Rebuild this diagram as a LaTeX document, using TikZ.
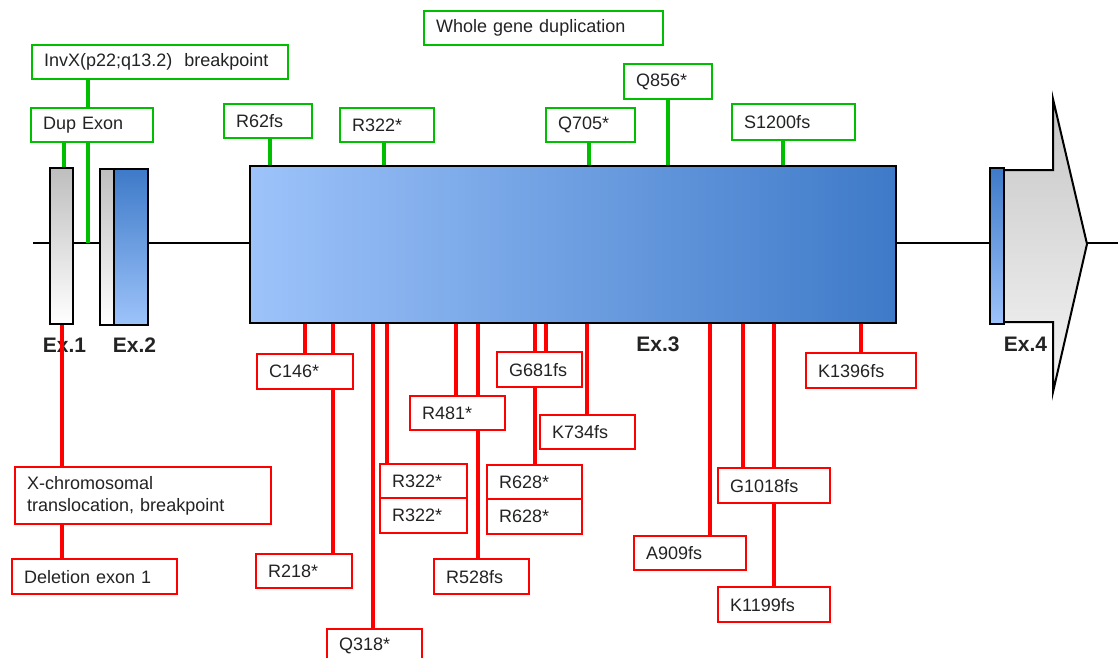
\documentclass[tikz,border=0pt]{standalone}
\usepackage{fontspec}
\setmainfont{Liberation Sans}
\usepackage{xcolor}
\definecolor{dupgreen}{RGB}{0,190,0}
\definecolor{mutred}{RGB}{255,0,0}
\definecolor{exlight}{RGB}{157,195,250}
\definecolor{exdark}{RGB}{62,122,200}
\definecolor{exgray}{RGB}{190,190,190}
\definecolor{tailgray}{RGB}{198,198,198}
\definecolor{labtext}{RGB}{35,35,35}

\begin{document}
\begin{tikzpicture}[x=1pt, y=-1pt,
    exon/.style={draw, line width=2pt, inner sep=0pt, minimum height=156pt},
    mutbox/.style={draw, fill=white, line width=2.4pt, anchor=north west, inner xsep=12pt, inner ysep=0pt,
        minimum height=34pt, align=left, text=labtext, font=\fontsize{18}{22}\selectfont},
    gbox/.style={mutbox, draw=dupgreen, text width=#1},
    rbox/.style={mutbox, draw=mutred, text width=#1},
    gline/.style={dupgreen, line width=3.4pt},
    rline/.style={mutred, line width=3.4pt},
    exlabel/.style={font=\fontsize{21}{24}\selectfont\bfseries, text=labtext, inner sep=0pt}]
                \clip (0,0) rectangle (1118,657);

                \coordinate (start) at (33,243);
                \coordinate (end) at (1118,243);
                \draw[line width=2.8pt] (start) -- (end);

                \draw[line width=2pt, top color=tailgray, bottom color=white!96!black]
                    (1004,170) -- (1053,170) -- (1053,99) -- (1087,244) -- (1053,392) -- (1053,322) -- (1004,322);

                \node[exon, minimum width=23pt, top color=exgray, bottom color=white] (ex1) at (61.5,246) {};
                \node[exon, minimum width=14pt, top color=exgray, bottom color=white] (ex2a) at (107,247) {};
                \node[exon, minimum width=34pt, top color=exdark, bottom color=exlight] (ex2) at (131,247) {};
                \node[exon, minimum width=646pt, minimum height=157pt, left color=exlight, right color=exdark] (ex3) at (573,244.5) {};
                \node[exon, minimum width=14pt, top color=exdark, bottom color=exlight] (ex4) at (997,246) {};

                \node[exlabel] (lab1) at (64.5,345) {Ex.1};
                \node[exlabel] (lab2) at (134.5,345) {Ex.2};
                \node[exlabel] (lab3) at (658,344) {Ex.3};
                \node[exlabel] (lab4) at (1025.5,344.5) {Ex.4};

                \node[gbox=232pt] (invx) at (31,44) {InvX(p22;q13.2)\ \ breakpoint};
                \node[gbox=98pt] (dup) at (30,107) {Dup Exon};
                \node[gbox=64pt] (r62) at (223,103) {R62fs};
                \node[gbox=70pt] (r322g) at (339,107) {R322*};
                \node[gbox=215pt] (whole) at (423,10) {Whole gene duplication};
                \node[gbox=65pt] (q705) at (545,107) {Q705*};
                \node[gbox=64pt, minimum height=35pt] (q856) at (623,63) {Q856*};
                \node[gbox=99pt, minimum height=36pt] (s1200) at (731,103) {S1200fs};

                \node[rbox=232pt, minimum height=57pt] (xchr) at (14,466) {X-chromosomal\\translocation, breakpoint};
                \node[rbox=141pt, minimum height=35pt] (del) at (11,558) {Deletion exon 1};
                \node[rbox=72pt, minimum height=35pt] (c146) at (256,353) {C146*};
                \node[rbox=72pt] (r218) at (255,553) {R218*};
                \node[rbox=71pt] (q318) at (326,628) {Q318*};
                \node[rbox=63pt] (r322a) at (379,463) {R322*};
                \node[rbox=63pt, minimum height=35pt] (r322b) at (379,497) {R322*};
                \node[rbox=71pt] (r481) at (409,395) {R481*};
                \node[rbox=71pt, minimum height=35pt] (r528) at (433,558) {R528fs};
                \node[rbox=61pt, minimum height=35pt] (g681) at (496,351) {G681fs};
                \node[rbox=71pt] (r628a) at (486,464) {R628*};
                \node[rbox=71pt, minimum height=35pt] (r628b) at (486,498) {R628*};
                \node[rbox=71pt] (k734) at (539,414) {K734fs};
                \node[rbox=88pt] (a909) at (633,535) {A909fs};
                \node[rbox=88pt, minimum height=35pt] (g1018) at (717,467) {G1018fs};
                \node[rbox=88pt, minimum height=35pt] (k1199) at (717,586) {K1199fs};
                \node[rbox=86pt, minimum height=35pt] (k1396) at (805,352) {K1396fs};

                \draw[gline] (88,0 |- invx.south) -- (88,0 |- dup.north);
                \draw[gline] (88,0 |- dup.south) -- (88,0 |- start);
                \draw[gline] (64,0 |- dup.south) -- (64,0 |- ex1.north);
                \draw[gline] (270,0 |- r62.south) -- (270,0 |- ex3.north);
                \draw[gline] (384,0 |- r322g.south) -- (384,0 |- ex3.north);
                \draw[gline] (589,0 |- q705.south) -- (589,0 |- ex3.north);
                \draw[gline] (668,0 |- q856.south) -- (668,0 |- ex3.north);
                \draw[gline] (783,0 |- s1200.south) -- (783,0 |- ex3.north);

                \draw[rline] (62,0 |- ex1.south) -- (62,0 |- xchr.north);
                \draw[rline] (62,0 |- xchr.south) -- (62,0 |- del.north);
                \draw[rline] (305,0 |- ex3.south) -- (305,0 |- c146.north);
                \draw[rline] (333,0 |- ex3.south) -- (333,0 |- c146.north);
                \draw[rline] (333,0 |- c146.south) -- (333,0 |- r218.north);
                \draw[rline] (373,0 |- ex3.south) -- (373,0 |- q318.north);
                \draw[rline] (387,0 |- ex3.south) -- (387,0 |- r322a.north);
                \draw[rline] (456,0 |- ex3.south) -- (456,0 |- r481.north);
                \draw[rline] (478,0 |- ex3.south) -- (478,0 |- r481.north);
                \draw[rline] (478,0 |- r481.south) -- (478,0 |- r528.north);
                \draw[rline] (535,0 |- ex3.south) -- (535,0 |- g681.north);
                \draw[rline] (546,0 |- ex3.south) -- (546,0 |- g681.north);
                \draw[rline] (535,0 |- g681.south) -- (535,0 |- r628a.north);
                \draw[rline] (587,0 |- ex3.south) -- (587,0 |- k734.north);
                \draw[rline] (710,0 |- ex3.south) -- (710,0 |- a909.north);
                \draw[rline] (743,0 |- ex3.south) -- (743,0 |- g1018.north);
                \draw[rline] (774,0 |- ex3.south) -- (774,0 |- g1018.north);
                \draw[rline] (774,0 |- g1018.south) -- (774,0 |- k1199.north);
                \draw[rline] (861,0 |- ex3.south) -- (861,0 |- k1396.north);
            \end{tikzpicture}
\end{document}
